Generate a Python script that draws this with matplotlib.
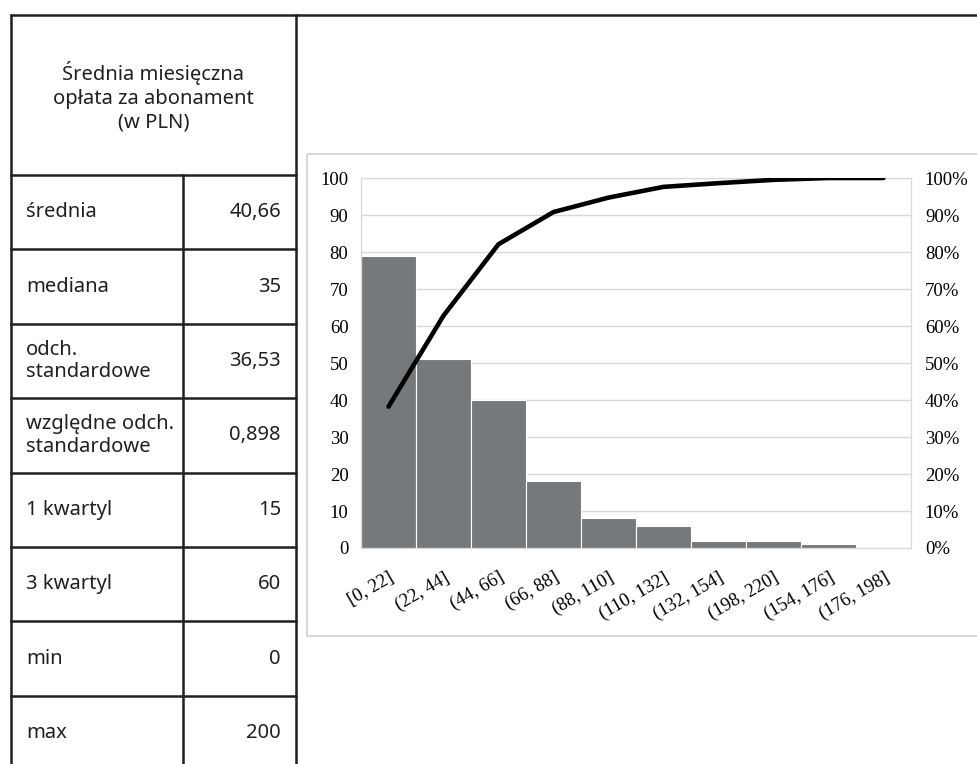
import matplotlib.pyplot as plt
from matplotlib.patches import Rectangle
from matplotlib.ticker import FixedLocator

# data
categories = ['[0, 22]', '(22, 44]', '(44, 66]', '(66, 88]', '(88, 110]',
              '(110, 132]', '(132, 154]', '(198, 220]', '(154, 176]', '(176, 198]']
counts = [79, 51, 40, 18, 8, 6, 2, 2, 1, 0]
cum_pct = [38.2, 62.8, 82.1, 90.8, 94.7, 97.6, 98.6, 99.5, 100.0, 100.0]

header = 'Średnia miesięczna\nopłata za abonament\n(w PLN)'
stat_names = ['średnia', 'mediana', 'odch.\nstandardowe', 'względne odch.\nstandardowe',
              '1 kwartyl', '3 kwartyl', 'min', 'max']
stat_values = ['40,66', '35', '36,53', '0,898', '15', '60', '0', '200']

W, H = 977, 764
fig = plt.figure(figsize=(W / 100, H / 100), dpi=100)

# overlay axes in pixel coordinates for the table and the chart frame
bg = fig.add_axes([0, 0, 1, 1])
bg.set_xlim(0, W)
bg.set_ylim(H, 0)
bg.axis('off')

lc = '#231f20'
lw = 1.8
bg.plot([10, W], [15, 15], color=lc, lw=lw, solid_capstyle='butt')
bg.plot([11, 11], [15, H], color=lc, lw=lw)
bg.plot([296, 296], [15, H], color=lc, lw=lw)
bg.plot([183, 183], [175, H], color=lc, lw=lw)

row_top = 175
row_h = 74.4
for i in range(len(stat_names) + 1):
    y = row_top + i * row_h
    bg.plot([11, 296], [y, y], color=lc, lw=lw)

tfont = 14.5
bg.text(153.5, 97, header, ha='center', va='center', fontsize=tfont,
        family='Noto Sans', color='#231f20', linespacing=1.25)
for i, (name, val) in enumerate(zip(stat_names, stat_values)):
    yc = row_top + (i + 0.5) * row_h
    bg.text(26, yc, name, ha='left', va='center', fontsize=tfont,
            family='Noto Sans', color='#231f20', linespacing=1.15)
    bg.text(281, yc, val, ha='right', va='center', fontsize=tfont,
            family='Noto Sans', color='#231f20')

bg.add_patch(Rectangle((307, 154), 700, 482, fill=False, ec='#d0d0d0', lw=1.2))

# chart
sfont = 13.5
ax = fig.add_axes([361 / W, 1 - 548 / H, 550 / W, 370 / H])
x = list(range(len(categories)))
ax.bar(x, counts, width=1.0, color='#76797b', edgecolor='white', linewidth=0.8, zorder=2)
ax.set_xlim(-0.5, len(categories) - 0.5)
ax.set_ylim(0, 100)
ax.yaxis.set_major_locator(FixedLocator(range(0, 101, 10)))
ax.grid(axis='y', color='#d9d9d9', lw=1.0, zorder=0)
for s in ax.spines.values():
    s.set_color('#d9d9d9')
ax.tick_params(length=0, labelsize=sfont, pad=9)
for lab in ax.get_yticklabels():
    lab.set_family('Liberation Serif')
ax.set_xticks(x)
ax.set_xticklabels(categories, rotation=30, ha='right', rotation_mode='anchor',
                   family='Liberation Serif', fontsize=sfont)
ax.tick_params(axis='x', pad=15)

ax2 = ax.twinx()
ax2.plot(x[:len(cum_pct)], cum_pct, color='black', lw=3.3, solid_capstyle='round', zorder=3)
ax2.set_ylim(0, 100)
ax2.yaxis.set_major_locator(FixedLocator(range(0, 101, 10)))
ax2.set_yticklabels([f'{v}%' for v in range(0, 101, 10)], family='Liberation Serif', fontsize=sfont)
ax2.tick_params(length=0, pad=10)
for s in ax2.spines.values():
    s.set_color('#d9d9d9')

fig.savefig('out.png', dpi=100)
